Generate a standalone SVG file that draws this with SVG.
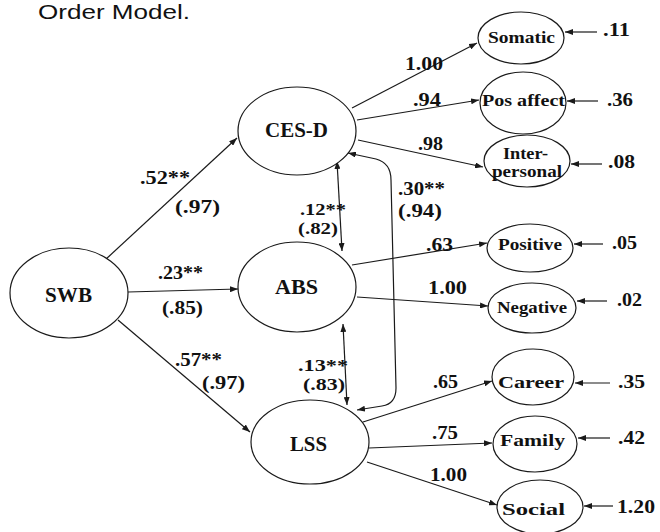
<svg xmlns="http://www.w3.org/2000/svg" width="660" height="532" viewBox="0 0 660 532">
<defs>
<marker id="ah" viewBox="0 0 8 6" markerWidth="8" markerHeight="6" refX="8" refY="3" orient="auto-start-reverse" markerUnits="userSpaceOnUse">
<path d="M0,0 L8,3 L0,6 z" fill="#1a1a1a"/>
</marker>
<style>
.n{fill:#fff;stroke:#1a1a1a;stroke-width:1.2}
.c{fill:none;stroke:#1a1a1a;stroke-width:1.2;marker-end:url(#ah)}
.b{fill:none;stroke:#1a1a1a;stroke-width:1.2;marker-start:url(#ah);marker-end:url(#ah)}
.t{font-family:"Liberation Serif","Times New Roman",serif;font-weight:bold;fill:#111}
.big{font-size:20px}
.sm{font-size:17px}
.lb{font-family:"Liberation Serif","Times New Roman",serif;font-weight:bold;font-size:18px;fill:#111}
.tight{font-size:16px}
.title{font-family:"Liberation Sans",Arial,sans-serif;font-size:21px;fill:#111}
</style>
</defs>
<rect width="660" height="532" fill="#fff"/>
<text class="title" x="38" y="19" textLength="152" lengthAdjust="spacingAndGlyphs">Order Model.</text>

<g id="connectors">
<path class="c" d="M105,260 L237,138"/>
<path class="c" d="M128,292 L238,289"/>
<path class="c" d="M118,320 L250,432"/>
<path class="c" d="M352,108 L477,43"/>
<path class="c" d="M357,120 L479,100"/>
<path class="c" d="M358,140 L483,167"/>
<path class="c" d="M352,265 L487,243"/>
<path class="c" d="M357,297 L488,306"/>
<path class="c" d="M363,422 L492,381"/>
<path class="c" d="M369,448 L492,443"/>
<path class="c" d="M367,462 L497,505"/>
<path class="c" d="M597,32 L565,32"/>
<path class="c" d="M598,101 L567,101"/>
<path class="c" d="M602,164 L571,164"/>
<path class="c" d="M603,244 L574,244"/>
<path class="c" d="M607,301 L577,301"/>
<path class="c" d="M610,383 L575,383"/>
<path class="c" d="M610,438 L578,438"/>
<path class="c" d="M613,506 L584,506"/>
<path class="b" d="M337,161 L342,251"/>
<path class="b" d="M343,324 L347,405"/>
<path class="b" d="M348,153 L376,159 Q391,163 391,180 L396,388 Q396,404 382,406 L357,410"/>
</g>

<g id="labels">
<text class="lb" x="405" y="70" textLength="38" lengthAdjust="spacingAndGlyphs">1.00</text>
<text class="lb" x="413" y="106" textLength="28" lengthAdjust="spacingAndGlyphs">.94</text>
<text class="lb" x="418" y="150" textLength="25" lengthAdjust="spacingAndGlyphs">.98</text>
<text class="lb" x="140" y="184" textLength="50" lengthAdjust="spacingAndGlyphs">.52**</text>
<text class="lb" x="175" y="213" textLength="45" lengthAdjust="spacingAndGlyphs">(.97)</text>
<text class="lb" x="158" y="279" textLength="45" lengthAdjust="spacingAndGlyphs">.23**</text>
<text class="lb" x="162" y="314" textLength="41" lengthAdjust="spacingAndGlyphs">(.85)</text>
<text class="lb" x="175" y="366" textLength="47" lengthAdjust="spacingAndGlyphs">.57**</text>
<text class="lb" x="202" y="389" textLength="43" lengthAdjust="spacingAndGlyphs">(.97)</text>
<text class="lb tight" x="300" y="215" textLength="46" lengthAdjust="spacingAndGlyphs">.12**</text>
<text class="lb tight" x="298" y="234" textLength="40" lengthAdjust="spacingAndGlyphs">(.82)</text>
<text class="lb" x="398" y="195" textLength="47" lengthAdjust="spacingAndGlyphs">.30**</text>
<text class="lb" x="398" y="217" textLength="44" lengthAdjust="spacingAndGlyphs">(.94)</text>
<text class="lb" x="426" y="251" textLength="27" lengthAdjust="spacingAndGlyphs">.63</text>
<text class="lb" x="428" y="294" textLength="39" lengthAdjust="spacingAndGlyphs">1.00</text>
<text class="lb tight" x="298" y="371" textLength="50" lengthAdjust="spacingAndGlyphs">.13**</text>
<text class="lb tight" x="303" y="390" textLength="42" lengthAdjust="spacingAndGlyphs">(.83)</text>
<text class="lb" x="433" y="388" textLength="25" lengthAdjust="spacingAndGlyphs">.65</text>
<text class="lb" x="432" y="439" textLength="26" lengthAdjust="spacingAndGlyphs">.75</text>
<text class="lb" x="430" y="481" textLength="37" lengthAdjust="spacingAndGlyphs">1.00</text>
<text class="lb" x="603" y="36" textLength="27" lengthAdjust="spacingAndGlyphs">.11</text>
<text class="lb" x="607" y="106" textLength="26" lengthAdjust="spacingAndGlyphs">.36</text>
<text class="lb" x="608" y="168" textLength="27" lengthAdjust="spacingAndGlyphs">.08</text>
<text class="lb" x="612" y="249" textLength="25" lengthAdjust="spacingAndGlyphs">.05</text>
<text class="lb" x="617" y="306" textLength="25" lengthAdjust="spacingAndGlyphs">.02</text>
<text class="lb" x="618" y="388" textLength="27" lengthAdjust="spacingAndGlyphs">.35</text>
<text class="lb" x="618" y="444" textLength="27" lengthAdjust="spacingAndGlyphs">.42</text>
<text class="lb" x="617" y="513" textLength="38" lengthAdjust="spacingAndGlyphs">1.20</text>
</g>

<g id="SWB"><ellipse class="n" cx="69" cy="293" rx="59" ry="45"/><text class="t big" x="45" y="302" textLength="47" lengthAdjust="spacingAndGlyphs">SWB</text></g>
<g id="CES-D"><ellipse class="n" cx="297" cy="131" rx="59" ry="44"/><text class="t big" x="265" y="137" textLength="63" lengthAdjust="spacingAndGlyphs">CES-D</text></g>
<g id="ABS"><ellipse class="n" cx="297" cy="287" rx="59" ry="45"/><text class="t big" x="275" y="294" textLength="43" lengthAdjust="spacingAndGlyphs">ABS</text></g>
<g id="LSS"><ellipse class="n" cx="310" cy="442" rx="59" ry="42"/><text class="t big" x="290" y="451" textLength="37" lengthAdjust="spacingAndGlyphs">LSS</text></g>
<g id="Somatic"><ellipse class="n" cx="521" cy="38" rx="43" ry="26"/><text class="t sm" x="488" y="43" textLength="67" lengthAdjust="spacingAndGlyphs">Somatic</text></g>
<g id="PosAffect"><ellipse class="n" cx="523" cy="103" rx="43" ry="31"/><text class="t sm" x="482" y="106" textLength="83" lengthAdjust="spacingAndGlyphs">Pos affect</text></g>
<g id="Interpersonal"><ellipse class="n" cx="527" cy="161" rx="43" ry="26"/><text class="t sm" x="503" y="159" textLength="45" lengthAdjust="spacingAndGlyphs">Inter-</text><text class="t sm" x="492" y="177" textLength="70" lengthAdjust="spacingAndGlyphs">personal</text></g>
<g id="Positive"><ellipse class="n" cx="530" cy="248" rx="43" ry="24"/><text class="t sm" x="498" y="250" textLength="64" lengthAdjust="spacingAndGlyphs">Positive</text></g>
<g id="Negative"><ellipse class="n" cx="532" cy="308" rx="44" ry="25"/><text class="t sm" x="497" y="313" textLength="70" lengthAdjust="spacingAndGlyphs">Negative</text></g>
<g id="Career"><ellipse class="n" cx="533" cy="377" rx="41" ry="28"/><text class="t sm" x="498" y="388" textLength="66" lengthAdjust="spacingAndGlyphs">Career</text></g>
<g id="Family"><ellipse class="n" cx="535" cy="444" rx="42" ry="28"/><text class="t sm" x="500" y="446" textLength="65" lengthAdjust="spacingAndGlyphs">Family</text></g>
<g id="Social"><ellipse class="n" cx="540" cy="507" rx="43" ry="27"/><text class="t sm" x="502" y="515" textLength="63" lengthAdjust="spacingAndGlyphs">Social</text></g>
</svg>
